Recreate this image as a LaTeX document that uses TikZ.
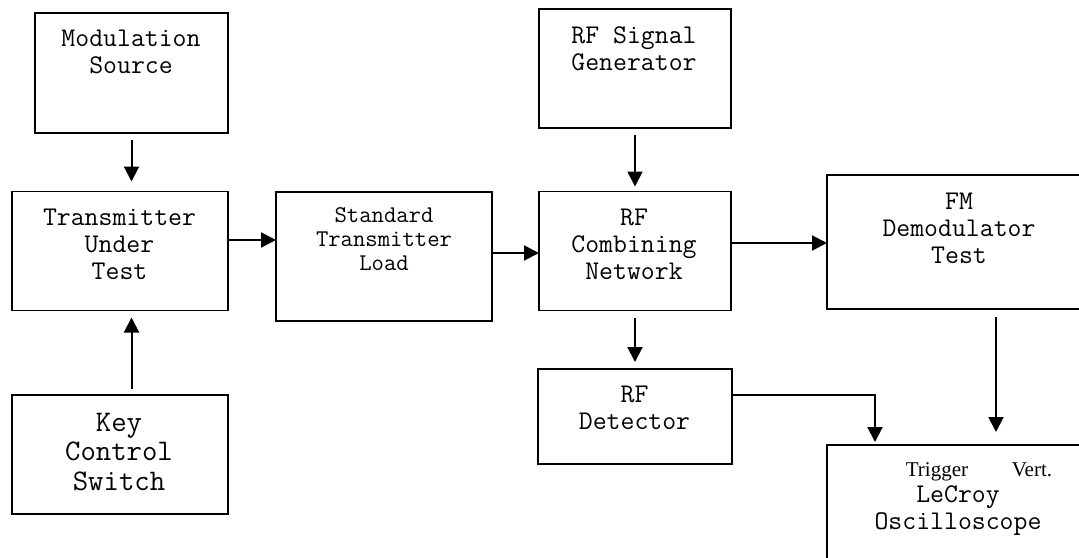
\documentclass[tikz,border=0pt]{standalone}
\usepackage{fontspec}
\setmainfont{Liberation Serif}
\usetikzlibrary{arrows.meta}
\begin{document}
\begin{tikzpicture}[x=1pt,y=-1pt,
  box/.style={draw, line width=1.2pt, inner sep=0pt, outer sep=0pt},
  mono/.style={font=\ttfamily\fontsize{27}{27}\selectfont, align=center, inner sep=0pt},
  monosmall/.style={font=\ttfamily\fontsize{24}{24}\selectfont, align=center, inner sep=0pt},
  monobig/.style={font=\ttfamily\fontsize{29.9}{29.5}\selectfont, align=center, inner sep=0pt},
  serif/.style={font=\rmfamily\fontsize{21}{24}\selectfont, inner sep=0pt, anchor=base},
  arr/.style={line width=2pt, -{Triangle[length=15pt,width=15pt]}}]
\clip (0,0) rectangle (1079,557);
% boxes
\node[box, minimum width=193pt, minimum height=120pt] (mod) at (131.5,73) {};
\node[box, minimum width=216pt, minimum height=119pt] (tut) at (120,251) {};
\node[box, minimum width=216pt, minimum height=129pt] (stl) at (384,256.5) {};
\node[box, minimum width=192pt, minimum height=119pt] (rfsg) at (635,68.5) {};
\node[box, minimum width=192pt, minimum height=119pt] (rfc) at (635,251) {};
\node[box, minimum width=264pt, minimum height=134pt] (fm) at (959,242) {};
\node[box, minimum width=194pt, minimum height=95pt] (rfd) at (635,416.5) {};
\node[box, minimum width=216pt, minimum height=119pt] (key) at (120,454.5) {};
\node[box, minimum width=264pt, minimum height=155pt] (scope) at (959,522.5) {};
% texts
\node[mono] (modt) at (131,52) {Modulation\\Source};
\node[mono] (tutt) at (119.5,244.5) {Transmitter\\Under\\Test};
\node[monosmall] (stlt) at (384,239) {Standard\\Transmitter\\Load};
\node[mono] (rfsgt) at (634,48.5) {RF Signal\\Generator};
\node[mono] (rfct) at (634,244.5) {RF\\Combining\\Network};
\node[mono] (fmt) at (959,228.5) {FM\\Demodulator\\Test};
\node[mono] (rfdt) at (634.5,408) {RF\\Detector};
\node[monobig] (keyt) at (119,452) {Key\\Control\\Switch};
\node[mono] (scopet) at (958,511) {LeCroy\\Oscilloscope};
\node[serif] (trig) at (937,476) {Trigger};
\node[serif] (vert) at (1032,476) {Vert.};
% connectors
\draw[arr] ([yshift=-7pt]mod.south) -- ([yshift=10pt]mod.south |- tut.north);
\draw[arr] ([yshift=6pt]mod.south |- key.north) -- ([yshift=-7pt]mod.south |- tut.south);
\draw[arr] ([yshift=11pt]tut.east) -- ([yshift=11pt]stl.west |- tut.east);
\draw[arr] ([yshift=3.5pt]stl.east) -- ([yshift=3.5pt]rfc.west |- stl.east);
\draw[arr] ([yshift=-7pt]rfsg.south) -- ([yshift=5pt]rfc.north);
\draw[arr] ([yshift=8pt]rfc.east) -- ([yshift=8pt]fm.west |- rfc.east);
\draw[arr] ([yshift=-7pt]rfc.south) -- ([yshift=7pt]rfd.north);
\draw[arr] ([xshift=37pt,yshift=-8pt]fm.south) -- ([xshift=37pt,yshift=13pt]fm.south |- scope.north);
\draw[arr] ([yshift=21.5pt]rfd.east) -| ([xshift=-84pt,yshift=3pt]scope.north);
\end{tikzpicture}
\end{document}
